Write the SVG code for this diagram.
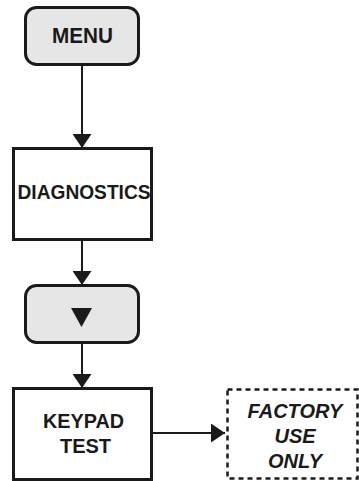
<svg xmlns="http://www.w3.org/2000/svg" width="359" height="481" viewBox="0 0 359 481">
  <defs>
    <marker id="arrow" viewBox="0 0 14 19" refX="14" refY="9.5" markerWidth="14" markerHeight="19" markerUnits="userSpaceOnUse" orient="auto">
      <path d="M0,0 L14,9.5 L0,19 Z" fill="#1a1a1a"/>
    </marker>
    <style>
      .key { fill: #e6e6e6; stroke: #1a1a1a; stroke-width: 3; }
      .box { fill: #ffffff; stroke: #1a1a1a; stroke-width: 3; }
      .dash { fill: none; stroke: #1a1a1a; stroke-width: 2.5; stroke-dasharray: 5 4; }
      .lbl { font-family: "Liberation Sans", Arial, sans-serif; font-weight: bold; font-size: 20px; fill: #1a1a1a; text-anchor: middle; }
      .it { font-style: italic; }
      .edge { fill: none; stroke: #1a1a1a; stroke-width: 2; marker-end: url(#arrow); }
    </style>
  </defs>

  <g id="connectors">
    <line class="edge" x1="82" y1="65" x2="82" y2="148"/>
    <line class="edge" x1="82" y1="240" x2="82" y2="285"/>
    <line class="edge" x1="82" y1="343" x2="82" y2="388"/>
    <line class="edge" x1="152" y1="433" x2="225" y2="433"/>
  </g>

  <g id="menu">
    <rect class="key" x="25.5" y="7.5" width="113" height="57" rx="11"/>
    <text class="lbl" x="82.5" y="43" textLength="61" lengthAdjust="spacingAndGlyphs" style="font-size:22px">MENU</text>
  </g>

  <g id="diagnostics">
    <rect class="box" x="13.5" y="148.5" width="138" height="91"/>
    <text class="lbl" x="84" y="199" textLength="133" lengthAdjust="spacingAndGlyphs" style="font-size:21px">DIAGNOSTICS</text>
  </g>

  <g id="down-key">
    <rect class="key" x="25.5" y="285.5" width="113" height="57" rx="11"/>
    <path d="M71,308 L92,308 L81.5,327 Z" fill="#1a1a1a"/>
  </g>

  <g id="keypad-test">
    <rect class="box" x="13.5" y="388.5" width="138" height="91"/>
    <text class="lbl" x="83.5" y="428" textLength="81" lengthAdjust="spacingAndGlyphs" style="font-size:21px">KEYPAD</text>
    <text class="lbl" x="85.5" y="453" style="font-size:20px">TEST</text>
  </g>

  <g id="factory-use-only">
    <rect class="dash" x="227.5" y="389.5" width="130" height="89"/>
    <text class="lbl it" x="295" y="418">FACTORY</text>
    <text class="lbl it" x="295" y="443">USE</text>
    <text class="lbl it" x="295" y="468">ONLY</text>
  </g>
</svg>
